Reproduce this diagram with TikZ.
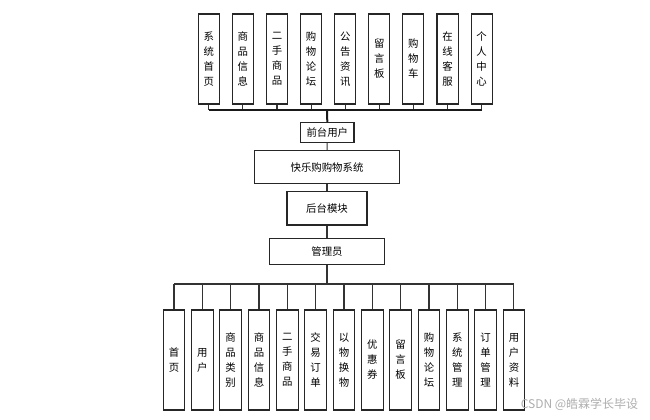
\documentclass[tikz,border=0pt]{standalone}
\usepackage{fontspec}
\newfontfamily\cjk{Noto Sans CJK SC}
\usetikzlibrary{positioning}
\tikzset{
  box/.style={draw=black!85, line width=0.8pt, fill=white, inner sep=0pt,
    align=center, font=\cjk\fontsize{7.8}{11.25}\selectfont},
  topbox/.style={box, minimum width=15.8pt, minimum height=67.5pt},
  botbox/.style={box, minimum width=16.2pt, minimum height=75pt},
  link/.style={draw=black!80, line width=0.8pt},
  buslink/.style={draw=black!90, line width=1.5pt},
}

\begin{document}
\begin{tikzpicture}[x=0.75pt,y=-0.75pt]
  \useasboundingbox (0,0) rectangle (650,419);
  % front end modules
  \foreach \t [count=\i] in {{系\\统\\首\\页},{商\\品\\信\\息},{二\\手\\商\\品},
      {购\\物\\论\\坛},{公\\告\\资\\讯},{留\\言\\板},{购\\物\\车},
      {在\\线\\客\\服},{个\\人\\中\\心}}
    \node[topbox] (t\i) at ({208.8+34.1*(\i-1)},59) {\t};
  % middle chain
  \node[box, minimum width=40pt, minimum height=15pt] (user) at (327.3,132.3) {前台用户};
  \node[box, minimum width=108.5pt, minimum height=24.8pt] (sys) at (327,167.2) {快乐购购物系统};
  \node[box, minimum width=60pt, minimum height=25pt] (back) at (327,208.3) {后台模块};
  \node[box, minimum width=86.5pt, minimum height=19.3pt] (admin) at (327,251.8) {管理员};
  % back end modules
  \foreach \t [count=\i] in {{首\\页},{用\\户},{商\\品\\类\\别},{商\\品\\信\\息},
      {二\\手\\商\\品},{交\\易\\订\\单},{以\\物\\换\\物},{优\\惠\\券},
      {留\\言\\板},{购\\物\\论\\坛},{系\\统\\管\\理},{订\\单\\管\\理},
      {用\\户\\资\\料}}
    \node[botbox] (b\i) at ({174+28.33*(\i-1)},360) {\t};
  \coordinate (tbus) at (327,110);
  \coordinate (bbus) at (327,284);
  % connectors
  \foreach \i in {1,...,9}
    \draw[link] (t\i.south) -- (t\i.south |- tbus);
  \draw[buslink] (t1.south |- tbus) -- (t9.south |- tbus);
  \draw[buslink] (tbus) -- (user.north);
  \draw[link] (user) -- (sys);
  \draw[link] (sys) -- (back);
  \draw[link] (back) -- (admin);
  \draw[link] (admin) -- (bbus);
  \draw[link] (b1.north |- bbus) -- (b13.north |- bbus);
  \foreach \i in {1,...,13}
    \draw[link] (b\i.north |- bbus) -- (b\i.north);
  \node[text=black!32, font=\cjk\fontsize{9}{10}\selectfont, anchor=west, inner sep=0pt]
    (mark) at (520.5,404) {CSDN @皓霖学长毕设};
\end{tikzpicture}
\end{document}
